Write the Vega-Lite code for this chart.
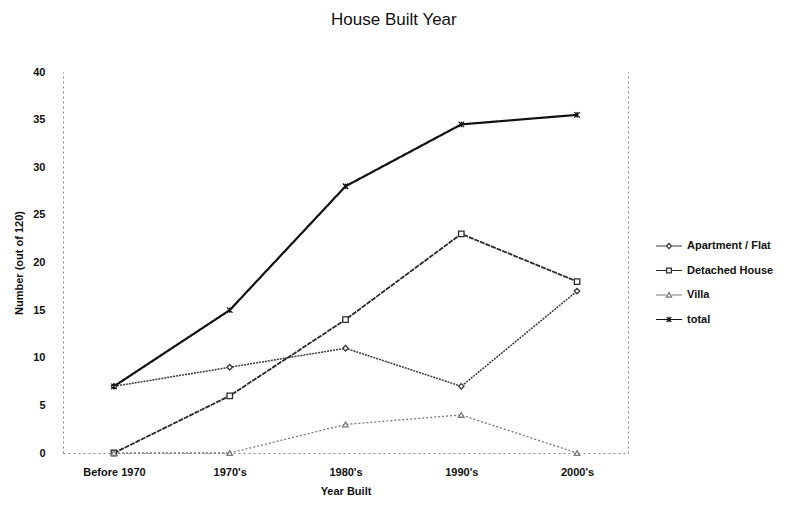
{
  "$schema": "https://vega.github.io/schema/vega-lite/v6.json",
  "autosize": {"type": "none"},
  "width": 565,
  "height": 381,
  "padding": {"left": 63, "top": 72, "right": 166, "bottom": 52},
  "background": "white",
  "title": {
    "text": "House Built Year",
    "font": "Liberation Sans",
    "fontSize": 17,
    "fontWeight": "normal",
    "color": "#111",
    "anchor": "middle",
    "frame": "bounds",
    "offset": 37
  },
  "config": {
    "view": {"stroke": null},
    "font": "Liberation Sans",
    "axis": {
      "labelFont": "Liberation Sans",
      "titleFont": "Liberation Sans",
      "labelFontWeight": "bold",
      "titleFontWeight": "bold",
      "labelFontSize": 11,
      "titleFontSize": 11,
      "labelColor": "#111",
      "titleColor": "#111",
      "grid": false,
      "ticks": false,
      "domainColor": "#888",
      "domainDash": [2, 3],
      "domainWidth": 1
    }
  },
  "data": {
    "values": [
      {"year": "Before 1970", "series": "Apartment / Flat", "value": 7},
      {"year": "1970's", "series": "Apartment / Flat", "value": 9},
      {"year": "1980's", "series": "Apartment / Flat", "value": 11},
      {"year": "1990's", "series": "Apartment / Flat", "value": 7},
      {"year": "2000's", "series": "Apartment / Flat", "value": 17},
      {"year": "Before 1970", "series": "Detached House", "value": 0},
      {"year": "1970's", "series": "Detached House", "value": 6},
      {"year": "1980's", "series": "Detached House", "value": 14},
      {"year": "1990's", "series": "Detached House", "value": 23},
      {"year": "2000's", "series": "Detached House", "value": 18},
      {"year": "Before 1970", "series": "Villa", "value": 0},
      {"year": "1970's", "series": "Villa", "value": 0},
      {"year": "1980's", "series": "Villa", "value": 3},
      {"year": "1990's", "series": "Villa", "value": 4},
      {"year": "2000's", "series": "Villa", "value": 0},
      {"year": "Before 1970", "series": "total", "value": 7},
      {"year": "1970's", "series": "total", "value": 15},
      {"year": "1980's", "series": "total", "value": 28},
      {"year": "1990's", "series": "total", "value": 34.5},
      {"year": "2000's", "series": "total", "value": 35.5}
    ]
  },
  "encoding": {
    "x": {
      "field": "year",
      "type": "ordinal",
      "sort": ["Before 1970", "1970's", "1980's", "1990's", "2000's"],
      "scale": {"type": "point", "padding": 0.44},
      "axis": {"title": "Year Built", "labelAngle": 0, "labelPadding": 13, "titlePadding": 8}
    },
    "y": {
      "field": "value",
      "type": "quantitative",
      "scale": {"domain": [0, 40]},
      "axis": {"title": "Number (out of 120)", "values": [0, 5, 10, 15, 20, 25, 30, 35, 40], "labelPadding": 18, "titlePadding": 8}
    },
    "color": {
      "field": "series",
      "type": "nominal",
      "scale": {
        "domain": ["Apartment / Flat", "Detached House", "Villa", "total"],
        "range": ["#3a3a3a", "#2a2a2a", "#7a7a7a", "#111111"]
      },
      "legend": {
        "title": null,
        "orient": "none",
        "legendX": 592,
        "legendY": 160,
        "labelFont": "Liberation Sans",
        "labelFontWeight": "bold",
        "labelFontSize": 11,
        "labelColor": "#111",
        "labelOffset": 4,
        "rowPadding": 5.5,
        "symbolSize": 676,
        "symbolStrokeWidth": 1.2,
        "symbolFillColor": "white",
        "encode": {
          "symbols": {
            "update": {
              "shape": {
                "signal": "datum.value === 'Apartment / Flat' ? 'M-1,0H-0.2M0.2,0H1M0,-0.2L0.2,0L0,0.2L-0.2,0Z' : datum.value === 'Detached House' ? 'M-1,0H-0.18M0.18,0H1M-0.18,-0.18H0.18V0.18H-0.18Z' : datum.value === 'Villa' ? 'M-1,0H-0.2M0.2,0H1M0,-0.2L0.2,0.16L-0.2,0.16Z' : 'M-1,0H1M-0.18,-0.18L0.18,0.18M-0.18,0.18L0.18,-0.18M0,-0.22V0.22'"
              },
              "fill": {"value": "white"},
              "fillOpacity": {"value": 0},
              "strokeDash": {"value": []}
            }
          }
        }
      }
    }
  },
  "layer": [
    {
      "mark": {"type": "line"},
      "encoding": {
        "strokeDash": {
          "condition": [
            {"test": "datum.series === 'Apartment / Flat'", "value": [2, 1]},
            {"test": "datum.series === 'Detached House'", "value": [5, 1]},
            {"test": "datum.series === 'Villa'", "value": [2, 2]}
          ],
          "value": [1, 0]
        },
        "strokeWidth": {
          "condition": [
            {"test": "datum.series === 'Apartment / Flat'", "value": 1.5},
            {"test": "datum.series === 'Detached House'", "value": 1.8},
            {"test": "datum.series === 'Villa'", "value": 1.3}
          ],
          "value": 2.2
        }
      }
    },
    {
      "mark": {"type": "point", "filled": false, "size": 30, "strokeWidth": 1.3, "fill": "white", "fillOpacity": 1},
      "encoding": {
        "shape": {
          "condition": [
            {"test": "datum.series === 'Apartment / Flat'", "value": "diamond"},
            {"test": "datum.series === 'Detached House'", "value": "square"},
            {"test": "datum.series === 'Villa'", "value": "triangle-up"}
          ],
          "value": "M-1,-1L1,1M-1,1L1,-1M0,-1L0,1"
        },
        "y": {
          "field": "value",
          "type": "quantitative",
          "scale": {"domain": [0, 40]},
          "axis": {"orient": "right", "title": null, "labels": false, "ticks": false}
        }
      }
    }
  ],
  "resolve": {"axis": {"y": "independent"}}
}
